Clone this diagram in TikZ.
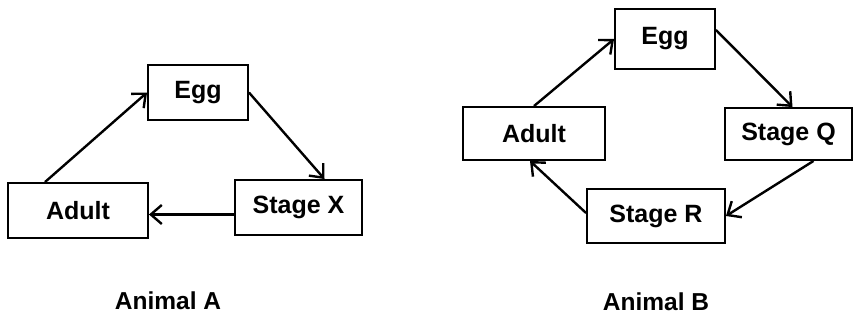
\documentclass[tikz,border=0pt]{standalone}
\usepackage{fontspec}
\setmainfont{Liberation Sans}
\usetikzlibrary{arrows.meta}
\tikzset{
    stage/.style={
        draw,
        line width=1.9pt,
        minimum height=55pt,
        inner sep=0pt,
        font=\fontsize{25}{28}\selectfont\bfseries},
    lifearrow/.style={
        draw,
        line width=2.4pt,
        -{Straight Barb[length=11pt,width=19pt]}},
    caption/.style={font=\fontsize{24.5}{28}\selectfont\bfseries}}

\begin{document}
\begin{tikzpicture}[x=1pt, y=-1pt]
    \useasboundingbox (0,0) rectangle (854,321);
        % Animal A
        \node[stage, minimum width=100pt] (eggA) at (198,92.5) {Egg};
        \node[stage, minimum width=140pt] (adultA) at (78,210.5) {Adult};
        \node[stage, minimum width=127pt] (stageX) at (298.5,207.5) {Stage X};
        \draw[lifearrow] ([xshift=-33pt]adultA.north) -- (eggA.west);
        \draw[lifearrow] (eggA.east) -- ([xshift=26pt]stageX.north);
        \draw[lifearrow] ([yshift=-7pt]stageX.west) -- ([yshift=-7pt]stageX.west -| adultA.east);
        \node[caption] (labelA) at (168,301) {Animal A};
        % Animal B
        \node[stage, minimum width=100pt, minimum height=60pt] (eggB) at (665,39) {Egg};
        \node[stage, minimum width=142pt, minimum height=53pt] (adultB) at (534,133.5) {Adult};
        \node[stage, minimum width=127pt, minimum height=52pt] (stageQ) at (788.5,134) {Stage Q};
        \node[stage, minimum width=138pt, minimum height=54pt] (stageR) at (656,216) {Stage R};
        \draw[lifearrow] (adultB.north) -- (eggB.west);
        \draw[lifearrow] ([yshift=9pt]eggB.east) -- ([xshift=4pt]stageQ.north);
        \draw[lifearrow] ([xshift=25pt]stageQ.south) -- (stageR.east);
        \draw[lifearrow] ([yshift=3pt]stageR.west) -- ([xshift=-4pt]adultB.south);
        \node[caption] (labelB) at (656,302) {Animal B};
    \end{tikzpicture}
\end{document}
